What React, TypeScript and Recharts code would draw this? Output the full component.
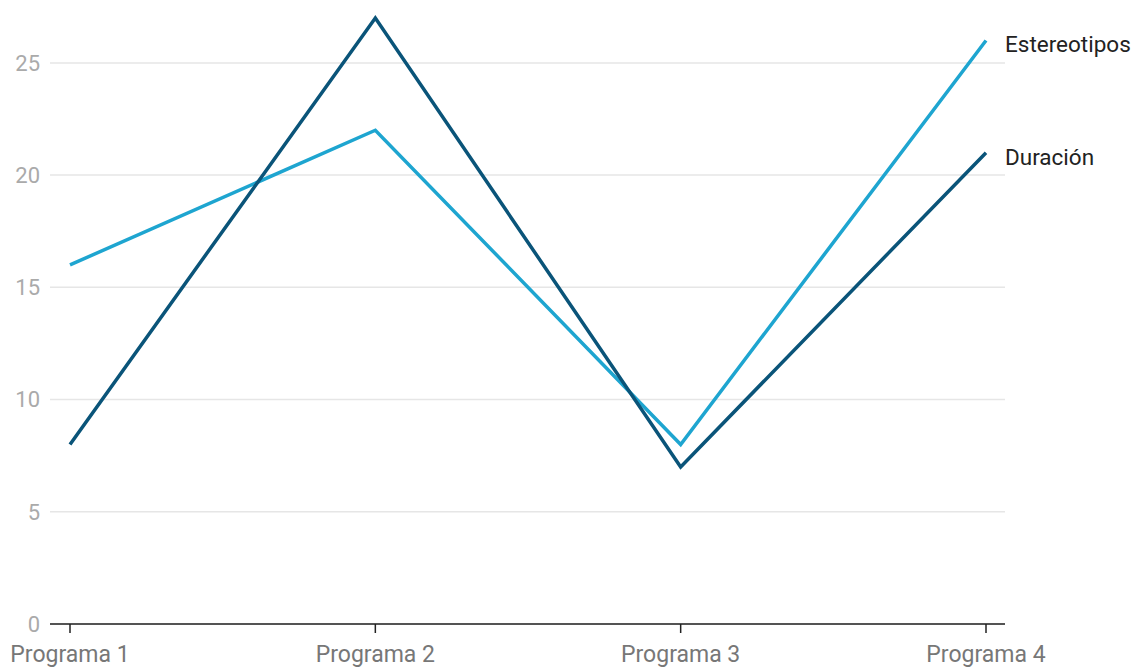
import React from 'react';
import { LineChart, Line, XAxis, YAxis, CartesianGrid } from 'recharts';

const programas = ['Programa 1', 'Programa 2', 'Programa 3', 'Programa 4'];
const estereotipos = [16, 22, 8, 26];
const duracion = [8, 27, 7, 21];
const yTicks = [0, 5, 10, 15, 20, 25];

const data = programas.map((name, i) => ({
  name,
  estereotipos: estereotipos[i],
  duracion: duracion[i],
}));

const FONT = 'Roboto, "Noto Sans", sans-serif';

// draws the series name next to its last point only
const endLabel = (text: string, count: number) => (props: any) => {
  const { x, y, index } = props;
  if (index !== count - 1) return null;
  return (
    <text x={x + 19} y={y} dy={12} fill="#222" fontSize={22.5} fontFamily={FONT}>
      {text}
    </text>
  );
};

const App: React.FC = () => {
  return (
    <div style={{ position: 'absolute', left: 0, top: 0, width: 1136, height: 671, background: '#fff' }}>
      <LineChart
        width={1136}
        height={671}
        data={data}
        margin={{ top: 18, right: 131, bottom: 0, left: 0 }}
      >
        <CartesianGrid
          horizontal
          vertical={false}
          horizontalValues={yTicks}
          stroke="#e6e6e6"
          strokeWidth={1.5}
        />
        <XAxis
          dataKey="name"
          height={47}
          padding={{ left: 20, right: 19 }}
          axisLine={{ stroke: '#222', strokeWidth: 1.5 }}
          tickLine={{ stroke: '#222', strokeWidth: 1.5 }}
          tickSize={9}
          tickMargin={13}
          tick={{ fill: '#777', fontSize: 23, fontFamily: FONT }}
          interval={0}
        />
        <YAxis
          width={50}
          domain={[0, 27]}
          ticks={yTicks}
          axisLine={false}
          tickLine={false}
          tickMargin={4}
          tick={{ fill: '#aaa', fontSize: 22, fontFamily: FONT }}
        />
        <Line
          type="linear"
          dataKey="estereotipos"
          stroke="#1ea5d0"
          strokeWidth={3.5}
          dot={false}
          activeDot={false}
          isAnimationActive={false}
          label={endLabel('Estereotipos', data.length)}
        />
        <Line
          type="linear"
          dataKey="duracion"
          stroke="#0a5479"
          strokeWidth={3.5}
          dot={false}
          activeDot={false}
          isAnimationActive={false}
          label={endLabel('Duración', data.length)}
        />
      </LineChart>
    </div>
  );
};

export default App;
